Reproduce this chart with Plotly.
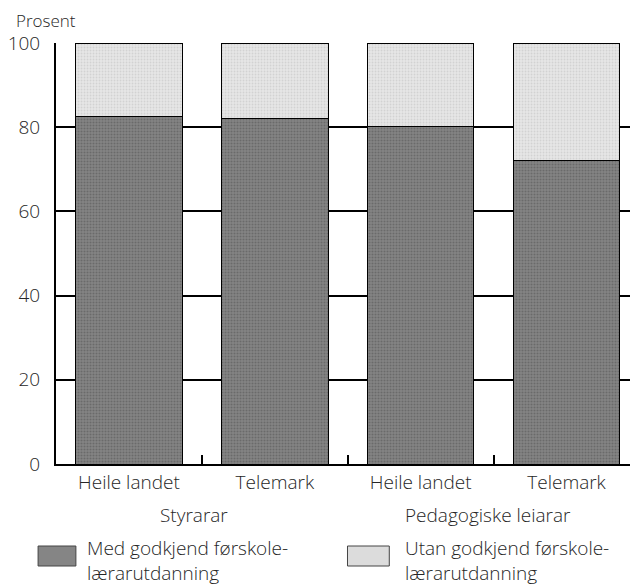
import plotly.graph_objects as go

# ---- data ----
categories = ["Heile landet", "Telemark", "Heile landet", "Telemark"]
groups = ["Styrarar", "Pedagogiske leiarar"]
med_godkjend = [82.5, 82, 80.2, 72]
utan_godkjend = [100 - v for v in med_godkjend]
series_names = ["Med godkjend førskolelærarutdanning", "Utan godkjend førskolelærarutdanning"]
legend_lines = [["Med godkjend førskole-", "lærarutdanning"],
                ["Utan godkjend førskole-", "lærarutdanning"]]
y_ticks = [0, 20, 40, 60, 80, 100]
y_title = "Prosent"

# ---- layout constants (page body has an 8px offset) ----
OFF = 8
W, H = 638 - OFF, 585 - OFF
L, R, T, B = 53 - OFF, 0, 43 - OFF, 121
PW, PH = W - L - R, H - T - B
FONT = "Open Sans"
TXT = "#262626"
FS = 19
dark_fill = "#858585"
light_fill = "#dcdcdc"

def px(x):
    return (x - OFF - L) / PW

def py(y):
    return (H - B - (y - OFF)) / PH

xpos = list(range(len(categories)))

fig = go.Figure()
fig.add_trace(go.Bar(
    x=xpos, y=med_godkjend, name=series_names[0], width=0.73,
    marker=dict(color=dark_fill, line=dict(color="black", width=1),
                pattern=dict(shape=".", fgcolor="#505050", bgcolor=dark_fill, size=3, solidity=0.4)),
))
fig.add_trace(go.Bar(
    x=xpos, y=utan_godkjend, name=series_names[1], width=0.73,
    marker=dict(color=light_fill, line=dict(color="black", width=1),
                pattern=dict(shape=".", fgcolor="#bdbdbd", bgcolor="#e6e6e6", size=3, solidity=0.3)),
))

fig.update_layout(
    barmode="stack",
    width=W, height=H,
    margin=dict(l=L, r=R, t=T, b=B, pad=0),
    plot_bgcolor="white", paper_bgcolor="white",
    showlegend=False,
    font=dict(family=FONT, size=FS, color=TXT, weight=300),
)
fig.update_xaxes(
    range=[-0.5, 3.49],
    tickmode="array", tickvals=xpos, ticktext=categories,
    ticks="", showgrid=False, zeroline=False,
    showline=True, linecolor="black", linewidth=2,
    tickfont=dict(family=FONT, size=FS, color=TXT, weight=300),
    minor=dict(tickmode="array", tickvals=[0.5, 1.5, 2.5], ticks="inside",
               ticklen=9, tickwidth=1.5, tickcolor="black", showgrid=False),
)
fig.update_yaxes(
    range=[0, 100], tickmode="array", tickvals=y_ticks,
    ticks="", showgrid=True, gridcolor="black", gridwidth=2,
    zeroline=False, showline=True, linecolor="black", linewidth=2,
    ticklabelstandoff=10,
    tickfont=dict(family=FONT, size=FS, color=TXT, weight=300),
)

annotations = []
annotations.append(dict(text=y_title, xref="paper", yref="paper", x=px(11), y=py(20),
                        xanchor="left", yanchor="middle", showarrow=False,
                        font=dict(family=FONT, size=17, color=TXT, weight=300)))
for gx, g in zip([0.446, 2.464], groups):
    annotations.append(dict(text=g, xref="x", yref="paper", x=gx, y=py(515),
                            xanchor="center", yanchor="middle", showarrow=False,
                            font=dict(family=FONT, size=FS, color=TXT, weight=300)))

shapes = []
sw = [(35, 73, dark_fill), (346, 388, light_fill)]
text_x = [82, 402]
for (x0, x1, col), tx, lines in zip(sw, text_x, legend_lines):
    shapes.append(dict(type="rect", xref="paper", yref="paper",
                       x0=px(x0), x1=px(x1), y0=py(566), y1=py(546),
                       fillcolor=col, line=dict(color="#444", width=1)))
    for i, ln in enumerate(lines):
        annotations.append(dict(text=ln, xref="paper", yref="paper", x=px(tx), y=py(548 + 25 * i),
                                xanchor="left", yanchor="middle", showarrow=False,
                                font=dict(family=FONT, size=FS, color=TXT, weight=300)))

fig.update_layout(annotations=annotations, shapes=shapes)
fig.write_html("out.html")
